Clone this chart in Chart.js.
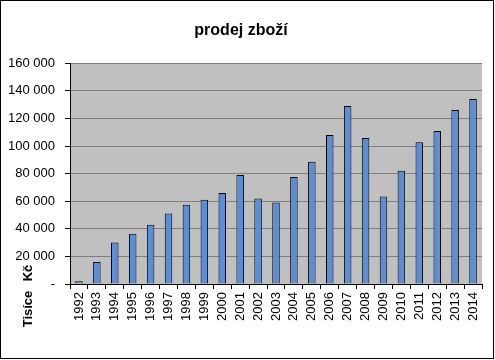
<!DOCTYPE html>
<html>
<head>
<meta charset="utf-8">
<script src="https://cdn.jsdelivr.net/npm/chart.js@4"></script>
<style>
  body { margin: 0; background: #fff; }
  canvas { display: block; }
</style>
</head>
<body>
<canvas id="canvas" width="495" height="360"></canvas>
<script>
const years = ['1992', '1993', '1994', '1995', '1996', '1997', '1998', '1999', '2000', '2001', '2002',
    '2003', '2004', '2005', '2006', '2007', '2008', '2009', '2010', '2011', '2012', '2013', '2014'];
const sales = [2000, 16000, 30000, 36500, 43000, 51000, 57500, 61000, 66000, 79000, 62000,
    59000, 77600, 88500, 108000, 129000, 105800, 63400, 82000, 102800, 110800, 126000, 134000];
const yTicks = [0, 20000, 40000, 60000, 80000, 100000, 120000, 140000, 160000];

const fontName = "'Liberation Sans', Arial, sans-serif";

// grey plot area + outer frame + the odd "Tisíce Kč" label
const decor = {
    id: 'decor',
    beforeDraw(chart) {
        const ctx = chart.ctx;
        const a = chart.chartArea;
        ctx.save();
        ctx.fillStyle = '#ffffff';
        ctx.fillRect(0, 0, chart.width, chart.height);
        ctx.fillStyle = '#c0c0c0';
        ctx.fillRect(a.left, a.top, a.right - a.left, a.bottom - a.top);
        ctx.restore();
    },
    afterDraw(chart) {
        const ctx = chart.ctx;
        ctx.save();
        ctx.strokeStyle = '#000';
        ctx.lineWidth = 1;
        ctx.strokeRect(0.5, 0.5, 493, 358);

        ctx.fillStyle = '#000';
        ctx.font = 'bold 13px ' + fontName;
        ctx.textAlign = 'center';
        ctx.textBaseline = 'middle';
        ctx.translate(28, 0);
        ctx.rotate(-Math.PI / 2);
        ctx.fillText('Kč', -273, 0);
        ctx.fillText('Tisíce', -309, 0);
        ctx.restore();
    }
};

function formatValue(v) {
    if (v === 0) return '-';
    return String(v).replace(/\B(?=(\d{3})+(?!\d))/g, ' ');
}

new Chart(document.getElementById('canvas'), {
    type: 'bar',
    data: {
        labels: years,
        datasets: [{
            label: 'prodej zboží',
            data: sales,
            backgroundColor: '#5b8ed6',
            borderColor: '#000000',
            borderWidth: 1,
            categoryPercentage: 1,
            barPercentage: 0.42
        }]
    },
    options: {
        responsive: false,
        animation: false,
        layout: { padding: { left: 0, right: 13, top: 0, bottom: 0 } },
        plugins: {
            legend: { display: false },
            tooltip: { enabled: false },
            title: {
                display: true,
                text: 'prodej zboží',
                color: '#000',
                font: { family: fontName, size: 16, weight: 'bold' },
                padding: { top: 21, bottom: 23 }
            }
        },
        scales: {
            x: {
                grid: {
                    drawOnChartArea: false,
                    tickLength: 5,
                    tickColor: '#000',
                    offset: true
                },
                border: { color: '#000', width: 1 },
                ticks: {
                    color: '#000',
                    font: { family: fontName, size: 13 },
                    minRotation: 90,
                    maxRotation: 90,
                    autoSkip: false,
                    padding: 3
                },
                afterFit(scale) { scale.height = 76; }
            },
            y: {
                min: 0,
                max: 160000,
                afterBuildTicks(scale) {
                    scale.ticks = yTicks.map(v => ({ value: v }));
                },
                grid: {
                    color: '#808080',
                    tickColor: '#000',
                    tickLength: 5
                },
                border: { color: '#000', width: 1 },
                ticks: {
                    color: '#000',
                    font: { family: fontName, size: 13 },
                    padding: 10,
                    callback: v => formatValue(v)
                },
                afterFit(scale) { scale.width = 70; }
            }
        }
    },
    plugins: [decor]
});
</script>
</body>
</html>
